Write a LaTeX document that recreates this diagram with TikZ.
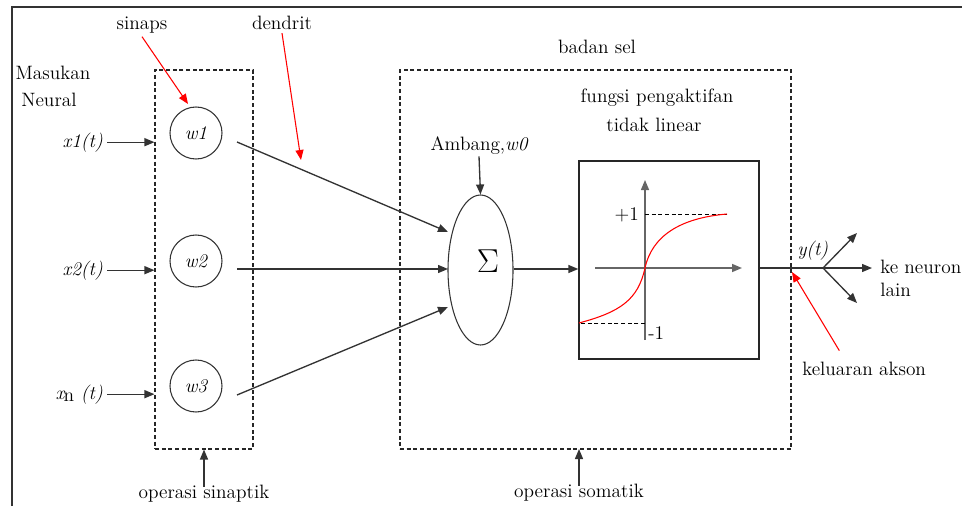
\documentclass[tikz,border=0pt]{standalone}
\usepackage{fontspec}
\usetikzlibrary{arrows.meta,shapes.geometric}
\begin{document}
\begin{tikzpicture}[x=0.75pt,y=-0.75pt,
  every node/.style={font=\fontsize{14.5}{17}\selectfont, inner sep=0pt},
  tb/.style={anchor=base},
  ln/.style={draw=black!80, line width=1pt},
  arr/.style={ln, -{Triangle[length=7.5pt,width=6pt]}},
  rarr/.style={draw=red, line width=0.8pt, -{Triangle[length=7.5pt,width=6pt]}},
  dbox/.style={draw=black!85, line width=0.8pt, dash pattern=on 3pt off 2pt},
  wcirc/.style={circle, draw=black!80, line width=0.8pt, minimum size=39pt},
  axis/.style={draw=black!60, line width=1.1pt, -{Triangle[length=7.5pt,width=6pt]}},
  lvl/.style={draw=black, line width=0.7pt, dash pattern=on 3pt off 2pt}
]
\useasboundingbox (0,0) rectangle (962,506);
% outer frame
\draw[line width=1.4pt, black!80] (12,506) -- (12,7) -- (962,7);

% dashed boxes
\node[dbox, minimum width=73.5pt, minimum height=284.25pt] (syn) at (204,259.5) {};
\node[dbox, minimum width=293.25pt, minimum height=284.25pt] (soma) at (595.5,259.5) {};

% top labels
\node[tb] (sinaps) at (142,30) {sinaps};
\node[tb] (dendrit) at (282,30) {dendrit};
\node[tb] (mas) at (53,80) {Masukan};
\node[tb] (neu) at (49,107) {Neural};
\node[tb] (badan) at (597,54) {badan sel};

% inputs
\node[anchor=base east] (x1) at (103,147) {\itshape x1(t)};
\node[anchor=base east] (x2) at (103,275) {\itshape x2(t)};
\node[anchor=base east] (xn) at (103,399) {\itshape x\kern-0.5pt\raisebox{-0.3ex}{\upshape n} (t)};
\draw[arr] ([xshift=3pt]x1.east) -- (x1.east -| syn.west);
\draw[arr] ([xshift=3pt]x2.east) -- (x2.east -| syn.west);
\draw[arr] ([xshift=3pt]xn.east) -- (xn.east -| syn.west);

% weights
\node[wcirc] (w1) at (196,133) {\itshape w1};
\node[wcirc] (w2) at (196,261) {\itshape w2};
\node[wcirc] (w3) at (196,386) {\itshape w3};

% summation
\node[ellipse, draw=black!80, line width=0.8pt, minimum width=48.75pt, minimum height=112.5pt] (sum) at (480.5,270) {};
\node (sig) at (488,261) {\fontsize{28}{28}\selectfont $\Sigma$};
\node[tb] (amb) at (479,151) {Ambang,\itshape w0};
\draw[arr] ([yshift=-4pt]amb.south |- 0,151) -- (sum.north);

\coordinate (w1o) at (237,142);
\coordinate (w2o) at (237,269);
\coordinate (w3o) at (237,395);
\coordinate (s1) at (448,232);
\coordinate (s2) at (448,269);
\coordinate (s3) at (448,307);
\draw[arr] (w1o) -- (s1);
\draw[arr] (w2o) -- (s2);
\draw[arr] (w3o) -- (s3);

% activation
\node[tb] (fung) at (657,103) {fungsi pengaktifan};
\node[tb] (tidak) at (654,132) {tidak linear};
\node[draw=black!85, line width=1pt, minimum width=135pt, minimum height=148.5pt] (act) at (669,260) {};
\draw[arr] (sum.east |- s2) -- (act.west |- s2);
\coordinate (org) at (645,268);
\coordinate (yt) at (645,180);
\coordinate (yb) at (645,340);
\coordinate (xl) at (595,268);
\coordinate (xr) at (742,268);
\draw[axis] (yb) -- (yt);
\draw[axis] (xl) -- (xr);
\coordinate (p1) at (645,214);
\coordinate (p1e) at (727,214);
\coordinate (m1) at (645,323);
\coordinate (m1e) at (579,323);
\draw[lvl] (p1) -- (p1e);
\draw[lvl] (m1) -- (m1e);
\node[anchor=base east] (plus) at (639,220) {+1};
\node[anchor=base west] (minus) at (648,339) {-1};
\draw[red, line width=0.8pt] (m1e) .. controls (620,312) and (638,300) .. (org) .. controls (652,236) and (680,218) .. (p1e);

% output
\coordinate (br) at (823,268);
\coordinate (o1) at (857,233);
\coordinate (o2) at (872,268);
\coordinate (o3) at (857,303);
\draw[ln] (act.east |- br) -- (br);
\draw[arr] (br) -- (o1);
\draw[arr] (br) -- (o2);
\draw[arr] (br) -- (o3);
\node[anchor=base west] (y) at (797,255) {\itshape y(t)};
\node[anchor=base west] (ke) at (880,273) {ke neuron};
\node[anchor=base west] (lain) at (880,296) {lain};
\node[anchor=base west] (kel) at (802,375) {keluaran akson};
\coordinate (ax) at (792,272);
\draw[rarr] ([xshift=28pt,yshift=8pt]kel.north west) -- (ax);

% bottom labels
\node[tb] (opsin) at (204,498) {operasi sinaptik};
\node[tb] (opsom) at (579,497) {operasi somatik};
\draw[arr] ([yshift=-2pt]opsin.north) -- (syn.south);
\coordinate (sb) at (579,449);
\draw[arr] ([yshift=-2pt]opsom.north) -- (sb);

% red pointers
\coordinate (wtip) at (188,104);
\coordinate (dtip) at (301,160);
\draw[rarr] ([yshift=-2pt]sinaps.south) -- (wtip);
\draw[rarr] ([yshift=-2pt]dendrit.south) -- (dtip);
\end{tikzpicture}
\end{document}
